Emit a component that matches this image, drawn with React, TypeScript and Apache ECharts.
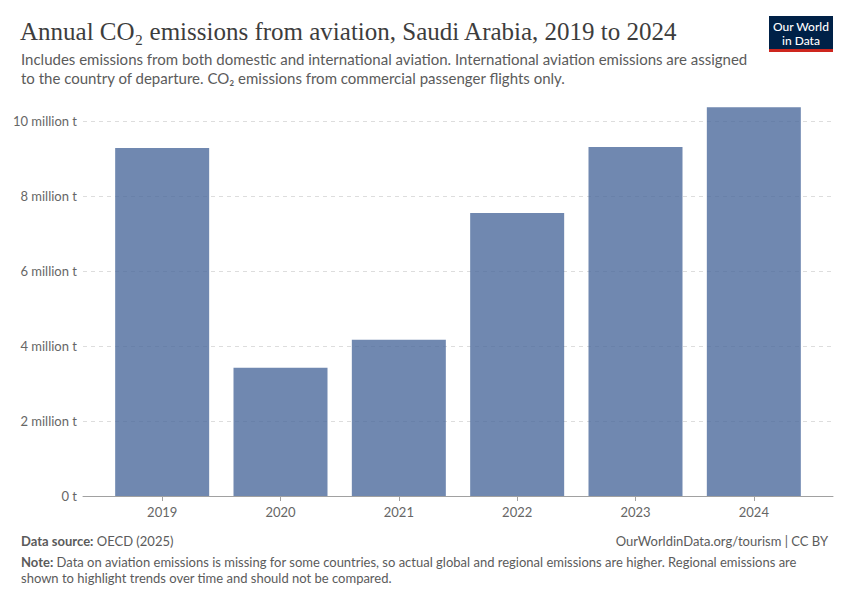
import React, { useEffect, useRef } from 'react';
import * as echarts from 'echarts';

const years = ['2019', '2020', '2021', '2022', '2023', '2024'];
const emissions = [9.28, 3.42, 4.17, 7.55, 9.31, 10.37];
const yMin = 0;
const yMax = 10;
const yInterval = 2;

const titleText = 'Annual CO₂ emissions from aviation, Saudi Arabia, 2019 to 2024';
const subtitleText =
  'Includes emissions from both domestic and international aviation. International aviation emissions are assigned\nto the country of departure. CO₂ emissions from commercial passenger flights only.';
const sourceText = 'OECD (2025)';
const linkText = 'OurWorldinData.org/tourism | CC BY';
const noteText =
  'Data on aviation emissions is missing for some countries, so actual global and regional emissions are higher. Regional emissions are\nshown to highlight trends over time and should not be compared.';

export default function App() {
  const ref = useRef<HTMLDivElement>(null);
  useEffect(() => {
    document.body.style.margin = '0';
    if (!ref.current) return;
    const chart = echarts.init(ref.current, null, { renderer: 'svg' });
    const font = 'Lato, "Noto Sans", sans-serif';
    chart.setOption({
      animation: false,
      backgroundColor: '#ffffff',
      title: [
        {
          text: titleText,
          left: 15,
          top: 14,
          textStyle: { fontFamily: '"Liberation Serif", "DejaVu Serif", serif', fontSize: 25, fontWeight: 'normal', color: '#3d3d3d' },
        },
        {
          text: subtitleText,
          left: 16,
          top: 44,
          textStyle: { fontFamily: font, fontSize: 15, fontWeight: 'normal', color: '#5b5b5b', lineHeight: 19 },
        },
        {
          text: '{b|Data source:} ' + sourceText,
          left: 16,
          top: 528,
          textStyle: {
            fontFamily: font, fontSize: 13, fontWeight: 'normal', color: '#5b5b5b', lineHeight: 16,
            rich: { b: { fontFamily: font, fontSize: 13, fontWeight: 'bold', color: '#5b5b5b' } },
          },
        },
        {
          text: linkText,
          right: 17,
          top: 528,
          textStyle: { fontFamily: font, fontSize: 13, fontWeight: 'normal', color: '#5b5b5b', lineHeight: 16 },
        },
        {
          text: '{b|Note:} ' + noteText,
          left: 16,
          top: 549,
          textStyle: {
            fontFamily: font, fontSize: 13, fontWeight: 'normal', color: '#5b5b5b', lineHeight: 16,
            rich: { b: { fontFamily: font, fontSize: 13, fontWeight: 'bold', color: '#5b5b5b', lineHeight: 16 } },
          },
        },
      ],
      graphic: [
        {
          type: 'group',
          left: 769,
          top: 16,
          children: [
            { type: 'rect', shape: { x: 0, y: 0, width: 64, height: 36 }, style: { fill: '#002147' } },
            { type: 'rect', shape: { x: 0, y: 33, width: 64, height: 3 }, style: { fill: '#ce261e' } },
            {
              type: 'text', x: 32, y: 10,
              style: { text: 'Our World', fill: '#ffffff', font: '500 12px Lato, sans-serif', align: 'center', verticalAlign: 'middle' },
            },
            {
              type: 'text', x: 32, y: 24,
              style: { text: 'in Data', fill: '#ffffff', font: '500 12px Lato, sans-serif', align: 'center', verticalAlign: 'middle' },
            },
          ],
        },
      ],
      grid: [
        { left: 83, right: 17, top: 121, bottom: 104 },
        { left: 103, right: 37, top: 102.25, bottom: 104 },
      ],
      xAxis: [
        {
          type: 'value', gridIndex: 0, min: 0, max: 1,
          axisLine: { show: true, lineStyle: { color: '#a1a1a1', width: 1 } },
          axisTick: { show: false }, axisLabel: { show: false }, splitLine: { show: false },
        },
        {
          type: 'category', gridIndex: 1, data: years,
          axisLine: { show: false },
          axisTick: { show: true, alignWithLabel: true, length: 5, lineStyle: { color: '#a1a1a1' } },
          axisLabel: { color: '#666666', fontFamily: font, fontSize: 13, margin: 9 },
          splitLine: { show: false },
        },
      ],
      yAxis: [
        {
          type: 'value', gridIndex: 0, min: yMin, max: yMax, interval: yInterval,
          axisLine: { show: false }, axisTick: { show: false },
          axisLabel: {
            color: '#666666', fontFamily: font, fontSize: 13, margin: 6,
            formatter: (v: number) => (v === 0 ? '0 t' : v + ' million t'),
          },
          splitLine: { show: true, lineStyle: { color: '#dddddd', type: [4, 4], width: 1 } },
        },
        { type: 'value', gridIndex: 1, min: 0, max: 10.5, show: false },
      ],
      series: [
        {
          type: 'bar',
          xAxisIndex: 1,
          yAxisIndex: 1,
          data: emissions,
          barWidth: 94,
          itemStyle: { color: '#4C6A9C', opacity: 0.8 },
        },
      ],
    });
    return () => chart.dispose();
  }, []);
  return <div ref={ref} style={{ width: 850, height: 600 }} />;
}
